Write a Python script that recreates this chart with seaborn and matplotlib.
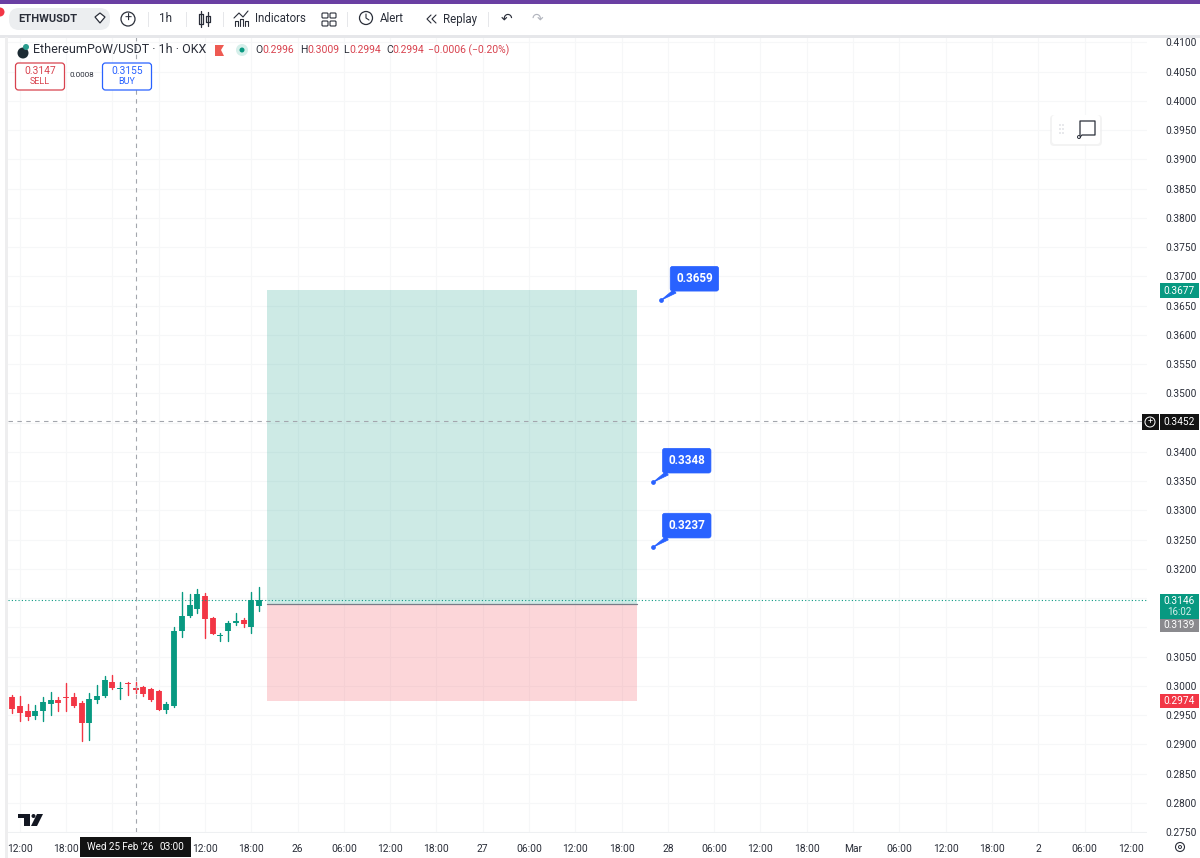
import matplotlib
matplotlib.use('Agg')
import matplotlib.pyplot as plt
from matplotlib.patches import Rectangle, FancyBboxPatch, Circle, Polygon
import pandas as pd
import seaborn as sns

# hourly candles, hour 0 = 25 Feb 00:00
hours = list(range(-13, 20))
opens = [.2980, .2965, .2957, .2949, .2956, .2969, .2976, .2981, .2980, .2971, .2937,
         .2975, .2982, .3006, .2995, .3004, .2997, .2998, .2995, .2991, .2959,
         .2965, .3094, .3119, .3132, .3153, .3116, .3085, .3093, .3107, .3112, .3100, .3137]
highs = [.2984, .2983, .2968, .2967, .2980, .2990, .2980, .3005, .2987, .2974, .2988,
         .3001, .3016, .3018, .3007, .3007, .3007, .3000, .2996, .2992, .2973,
         .3101, .3160, .3157, .3165, .3159, .3118, .3091, .3110, .3125, .3116, .3160, .3168]
lows = [.2954, .2939, .2941, .2943, .2939, .2950, .2957, .2957, .2963, .2906, .2907,
        .2971, .2981, .2994, .2978, .2984, .2987, .2983, .2974, .2958, .2954,
        .2964, .3084, .3117, .3124, .3081, .3088, .3077, .3077, .3103, .3100, .3091, .3128]
closes = [.2960, .2953, .2946, .2957, .2972, .2975, .2971, .2979, .2965, .2937, .2978,
          .2983, .3010, .2996, .2996, .3003, .2993, .2986, .2975, .2959, .2968,
          .3094, .3120, .3138, .3157, .3114, .3089, .3086, .3108, .3110, .3106, .3147, .3146]

# long position tool
entry_price = 0.3139
target_price = 0.3677
stop_price = 0.2974
tool_hours = [20, 68]

last_price = 0.3146
cross_hour = 3
cross_price = 0.3452

callout_prices = [0.3659, 0.3348, 0.3237]
callout_hours = [71.1, 70.1, 70.1]

price_ticks = [0.275 + 0.005 * i for i in range(28)]
# the scale tags sit on top of these two in the screenshot
hidden_prices = ['0.3100', '0.3150']
time_ticks = list(range(-12, 133, 6))
time_labels = ['12:00', '18:00', '', '', '12:00', '18:00', '26', '06:00', '12:00', '18:00',
               '27', '06:00', '12:00', '18:00', '28', '06:00', '12:00', '18:00', 'Mar',
               '06:00', '12:00', '18:00', '2', '06:00', '12:00']

GREEN = '#089981'
RED = '#f23645'
BLUE = '#2962ff'
TXT = '#2a2e39'

sns.set_theme(style='white')
plt.rcParams['font.family'] = ['Roboto', 'DejaVu Sans']

wicks = []
bodies = []
for i, h in enumerate(hours):
    side = 'up' if closes[i] >= opens[i] else 'down'
    wicks.append({'hour': h, 'price': lows[i], 'candle': i, 'side': side})
    wicks.append({'hour': h, 'price': highs[i], 'candle': i, 'side': side})
    bodies.append({'hour': h, 'price': opens[i], 'candle': i, 'side': side})
    bodies.append({'hour': h, 'price': closes[i], 'candle': i, 'side': side})
wicks = pd.DataFrame(wicks)
bodies = pd.DataFrame(bodies)
pal = {'up': GREEN, 'down': RED}

fig = plt.figure(figsize=(12, 8.58), dpi=100)
ax = fig.add_axes([8 / 1200, 1 - 832 / 858, 1139 / 1200, 795 / 858])
ax.set_xlim(-13.53, 134.1)
ax.set_ylim(0.2750, 0.4109)

ax.fill_between(tool_hours, entry_price, target_price, color=GREEN, alpha=0.2, lw=0, zorder=1)
ax.fill_between(tool_hours, stop_price, entry_price, color=RED, alpha=0.2, lw=0, zorder=1)
ax.plot(tool_hours, [entry_price, entry_price], color='#787b86', lw=0.9, zorder=2)

sns.lineplot(data=wicks, x='hour', y='price', units='candle', hue='side', palette=pal,
             estimator=None, sort=False, legend=False, lw=1.0, ax=ax, zorder=3)
sns.lineplot(data=bodies, x='hour', y='price', units='candle', hue='side', palette=pal,
             estimator=None, sort=False, legend=False, lw=4.2, ax=ax, zorder=4,
             solid_capstyle='butt')

ax.axhline(last_price, color=GREEN, lw=0.8, ls=(0, (1, 2)), zorder=5)
ax.axhline(cross_price, color='#a3a6ad', lw=0.8, ls=(0, (4, 4)), zorder=5)
ax.axvline(cross_hour, color='#a3a6ad', lw=0.8, ls=(0, (4, 4)), zorder=5)

price_labels = ['%.4f' % p for p in price_ticks]
price_labels = ['' if s in hidden_prices else s for s in price_labels]
ax.set_yticks(price_ticks)
ax.set_yticklabels(price_labels)
ax.set_xticks(time_ticks)
ax.set_xticklabels(time_labels)
ax.yaxis.tick_right()
ax.tick_params(axis='y', length=0, pad=13.5, labelsize=7.3, labelcolor=TXT)
ax.tick_params(axis='x', length=0, pad=8.5, labelsize=7.4, labelcolor=TXT)
ax.grid(True, color='#f6f7f8', lw=0.8)
ax.set_axisbelow(True)
ax.set_xlabel('')
ax.set_ylabel('')
sns.despine(ax=ax, left=True, right=True, top=True, bottom=True)

for p, h in zip(callout_prices, callout_hours):
    ax.annotate('%.4f' % p, xy=(h, p), xytext=(33.5, 21.5), textcoords='offset pixels',
                ha='center', va='center', color='white', fontsize=8.4, fontweight='bold', zorder=8,
                bbox=dict(boxstyle='round,pad=0.5,rounding_size=0.2', fc=BLUE, ec=BLUE, lw=0.5),
                arrowprops=dict(arrowstyle='wedge,tail_width=0.35', fc=BLUE, ec=BLUE, lw=0.6,
                                shrinkA=0, shrinkB=0))
    ax.plot([h], [p], marker='o', ms=2.4, color=BLUE, zorder=8)

# screenshot chrome, in pixel coordinates
ov = fig.add_axes([0, 0, 1, 1], zorder=20)
ov.set_xlim(0, 1200)
ov.set_ylim(858, 0)
ov.axis('off')


def txt(x, y, s, size=8, color=TXT, ha='left', weight='normal'):
    ov.text(x, y, s, fontsize=size, color=color, ha=ha, va='center', fontweight=weight)


def tag(x0, x1, y0, y1, color):
    ov.add_patch(Rectangle((x0, y0), x1 - x0, y1 - y0, fc=color, ec='none'))


# top toolbar
tag(0, 1200, 0, 3.5, '#6a3fa3')
tag(0, 1200, 35, 37.5, '#e6e7ea')
tag(5, 8, 37, 858, '#eeeeef')
ov.add_patch(Circle((0, 12), 4.5, fc=RED, ec='none'))
ov.add_patch(FancyBboxPatch((9, 8), 101, 22, boxstyle='round,pad=0,rounding_size=10', fc='#eceef0', ec='none'))
txt(18, 19, 'ETHWUSDT', 8.0, weight='bold')
ov.add_patch(Polygon([(95, 17), (100, 13), (105, 17), (100, 23)], fc='white', ec=TXT, lw=0.9))
ov.add_patch(Circle((128, 19), 7, fc='white', ec=TXT, lw=0.9))
txt(128, 18.5, '+', 9, ha='center')
txt(166, 19, '1h', 8.5, ha='center')
for sx in [148, 186, 223, 347, 488]:
    tag(sx, sx + 1, 12, 27, '#e6e7ea')
ov.plot([201, 201], [11, 27], color=TXT, lw=0.9)
tag(199, 203, 14, 24, 'white')
ov.plot([199, 203, 203, 199, 199], [14, 14, 24, 24, 14], color=TXT, lw=0.9)
ov.plot([208, 208], [12, 26], color=TXT, lw=0.9)
ov.plot([206, 210, 210, 206, 206], [16, 16, 22, 22, 16], color=TXT, lw=0.9)
ov.plot([234, 239, 243, 248], [18, 13, 17, 11], color=TXT, lw=0.8)
for bx, bh in [(235, 5), (240, 7), (245, 5)]:
    ov.plot([bx, bx, bx + 3, bx + 3], [26, 26 - bh, 26 - bh, 26], color=TXT, lw=0.8)
txt(255, 19, 'Indicators', 8.3)
for gx in [322, 330]:
    for gy in [13, 21]:
        ov.add_patch(FancyBboxPatch((gx, gy), 6, 5, boxstyle='round,pad=0,rounding_size=1', fc='white', ec=TXT, lw=0.8))
ov.add_patch(Circle((366, 18), 6.5, fc='white', ec=TXT, lw=0.9))
ov.plot([366, 366, 369], [14, 18, 20], color=TXT, lw=0.8)
txt(380, 19, 'Alert', 8.3)
ov.plot([431, 427, 431], [15, 19, 23], color=TXT, lw=0.8)
ov.plot([436, 432, 436], [15, 19, 23], color=TXT, lw=0.8)
txt(443, 19, 'Replay', 8.3)
txt(506, 19, '\u21b6', 10, ha='center')
txt(537, 19, '\u21b7', 10, '#b2b5be', ha='center')

# legend row
ov.add_patch(Circle((23, 53), 5.5, fc='#1c2b33', ec='none'))
ov.add_patch(Circle((26, 47), 3, fc='#2a9d8f', ec='none'))
txt(33, 50, 'EthereumPoW/USDT \u00b7 1h \u00b7 OKX', 9.0)
ov.add_patch(Polygon([(215, 45), (224, 45), (221, 50), (224, 56), (215, 56)], fc='#ee5a52', ec='none'))
ov.add_patch(Circle((242, 50), 6, fc='#d5efea', ec='none'))
ov.add_patch(Circle((242, 50), 2.5, fc=GREEN, ec='none'))
for lab, val, lx, vx in [('O', '0.2996', 255, 262), ('H', '0.3009', 300, 307), ('L', '0.2994', 343, 349), ('C', '0.2994', 386, 392)]:
    txt(lx, 50, lab, 7.5)
    txt(vx, 50, val, 7.5, '#d8434f')
txt(428, 50, '\u22120.0006 (\u22120.20%)', 7.5, '#d8434f')
ov.add_patch(FancyBboxPatch((15.5, 63), 49, 27, boxstyle='round,pad=0,rounding_size=3', fc='white', ec='#d8434f', lw=0.9))
txt(40, 71, '0.3147', 7.4, '#d8434f', ha='center')
txt(40, 82, 'SELL', 6.5, '#d8434f', ha='center')
txt(82, 75, '0.0008', 5.8, TXT, ha='center')
ov.add_patch(FancyBboxPatch((102.5, 63), 49, 27, boxstyle='round,pad=0,rounding_size=3', fc='white', ec=BLUE, lw=0.9))
txt(127, 71, '0.3155', 7.4, BLUE, ha='center')
txt(127, 82, 'BUY', 6.5, BLUE, ha='center')

# note widget
ov.add_patch(FancyBboxPatch((1050, 115), 52, 31, boxstyle='round,pad=0,rounding_size=4', fc='#eeeeef', ec='none', alpha=0.7))
ov.add_patch(FancyBboxPatch((1052, 115), 48, 29, boxstyle='round,pad=0,rounding_size=3', fc='white', ec='none'))
for dx in [1060, 1063]:
    for dy in [125, 129, 133]:
        ov.add_patch(Circle((dx, dy), 0.7, fc='#c5c8cf', ec='none'))
ov.plot([1080, 1080, 1095, 1095, 1082, 1080], [135, 121, 121, 135, 135, 137], color=TXT, lw=0.9)
ov.add_patch(Circle((1079, 137), 1.5, fc='white', ec=TXT, lw=0.7))

# price scale tags
tag(1160, 1199, 283, 298, GREEN)
txt(1179.5, 290.5, '0.3677', 7.3, 'white', ha='center')
tag(1160, 1199, 594, 619, GREEN)
txt(1179.5, 600.5, '0.3146', 7.3, 'white', ha='center')
txt(1179.5, 612, '16:02', 7.0, '#d5efea', ha='center')
tag(1160, 1199, 619, 632, '#8a8a8e')
txt(1179.5, 625.5, '0.3139', 7.3, 'white', ha='center')
tag(1160, 1199, 694, 708, RED)
txt(1179.5, 701, '0.2974', 7.3, 'white', ha='center')
tag(1160, 1199, 414, 430, '#131313')
txt(1179.5, 422, '0.3452', 7.3, 'white', ha='center')
tag(1142, 1158.5, 414, 430, '#131313')
ov.add_patch(Circle((1150, 422), 5, fc='none', ec='white', lw=0.7))
txt(1150, 421.5, '+', 6.5, 'white', ha='center')

# time scale
tag(8, 1147, 832, 833, '#eef0f2')
tag(80, 191, 837, 857, '#131313')
txt(87, 847.5, "Wed 25 Feb '26", 7.0, 'white')
txt(160, 847.5, '03:00', 7.2, 'white')
ov.add_patch(Circle((1180, 847), 4.5, fc='white', ec=TXT, lw=0.8))
ov.add_patch(Circle((1180, 847), 1.5, fc='white', ec=TXT, lw=0.7))

# tradingview logo
tag(18, 30, 814, 818, '#131722')
tag(24, 30, 814, 826, '#131722')
ov.add_patch(Circle((33.5, 816), 2, fc='#131722', ec='none'))
ov.add_patch(Polygon([(37, 814), (43, 814), (37, 826), (31, 826)], fc='#131722', ec='none'))

fig.savefig('out.png', dpi=100, facecolor='white')
